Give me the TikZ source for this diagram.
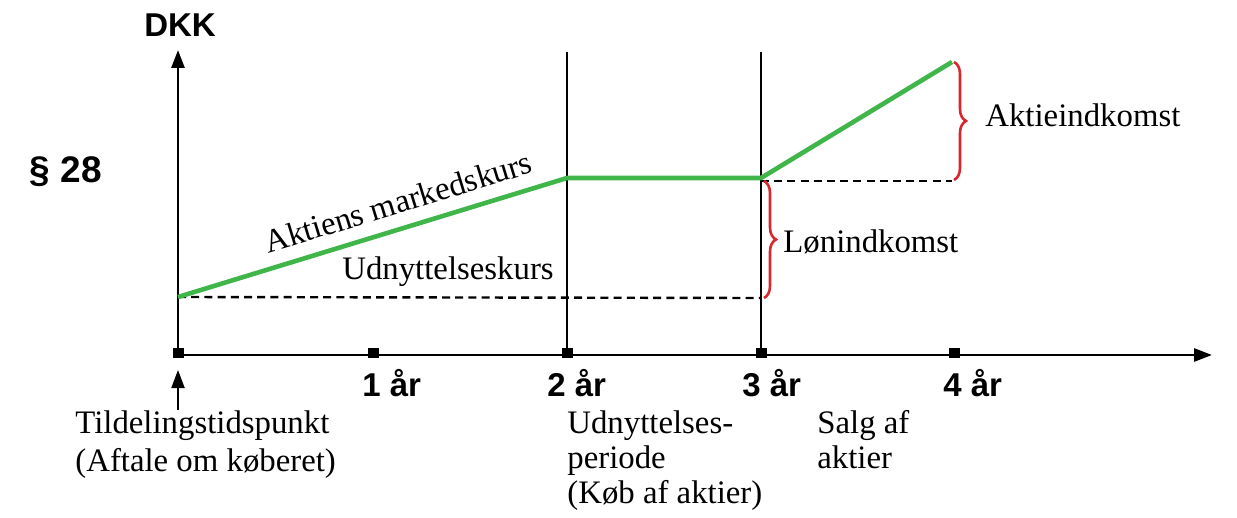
\documentclass[tikz,border=0pt]{standalone}
\usepackage{fontspec}
\setmainfont{Liberation Serif}
\setsansfont{Liberation Sans}
\usetikzlibrary{arrows.meta,calc,positioning,decorations.pathreplacing}
\definecolor{kursgreen}{HTML}{3FB54A}
\definecolor{bracered}{HTML}{D8262E}

\begin{document}
\begin{tikzpicture}[x=0.5pt,y=-0.5pt,>={Triangle[length=9pt,width=6.5pt]},font=\fontsize{16.4}{19}\selectfont]
\tikzset{axis/.style={line width=1.4pt,->}}
\tikzset{vline/.style={line width=1.2pt}}
\tikzset{tick/.style={fill=black,inner sep=0pt,minimum width=5.5pt,minimum height=5pt}}
\tikzset{kurs/.style={kursgreen,line width=2.3pt,line join=round}}
\tikzset{niveau/.style={line width=1.2pt,dash pattern=on 4pt off 2.6pt}}
\tikzset{klamme/.style={bracered,line width=1.3pt,decorate,decoration={brace,amplitude=6pt}}}
\tikzset{lbl/.style={inner sep=0pt}}
\tikzset{aar/.style={inner sep=0pt,font=\fontsize{16.5}{20}\selectfont\sffamily\bfseries}}
\useasboundingbox (0,0) rectangle (1237,518);
% axes
\coordinate (O) at (178,355);
\coordinate (xend) at (1212,355);
\coordinate (yend) at (178,50);
\draw[axis] (O) -- (xend);
\draw[axis] (O) -- (yend);
\foreach \x/\n in {178/0,373/1,567/2,761/3,954/4}
  \node[tick] (t\n) at (\x,353) {};
\foreach \x/\n in {362/1,547/2,742/3,943/4}
  \node[aar,anchor=west] (y\n) at (\x,383) {\n~år};
\node[aar] (dkk) at (180,25) {DKK};
\node[aar,font=\fontsize{18.5}{20}\selectfont\sffamily\bfseries] (par) at (66,172) {\S~28};
% periods
\coordinate (v2) at (567,52);
\coordinate (v3) at (761,52);
\draw[vline] (v2) -- (t2);
\draw[vline] (v3) -- (t3);
% price
\coordinate (p0) at (178,297);
\coordinate (p1) at (567,178);
\coordinate (p2) at (761,178);
\coordinate (p3) at (952,62);
\coordinate (q1) at (761,298);
\coordinate (q0) at (761,181);
\coordinate (q2) at (952,181);
\draw[niveau] (p0) -- (q1);
\draw[niveau] (q0) -- (q2);
\draw[kurs] (p0) -- (p1) -- (p2) -- (p3);
\draw[klamme] (764,181) -- (764,298);
\draw[klamme] (954,62) -- (954,180);
\node[lbl,anchor=west] (loen) at (783,242) {Lønindkomst};
\node[lbl,anchor=west] (aktie) at (985,115) {Aktieindkomst};
\node[lbl,rotate=17] (marked) at (398,202) {Aktiens markedskurs};
\node[lbl] (udn) at (448,272) {Udnyttelseskurs};
% events
\node[lbl,anchor=north west,align=left] (tild) at (75,410) {Tildelingstidspunkt\\(Aftale om køberet)};
\node[lbl,anchor=north west,align=left,font=\fontsize{16.4}{17.5}\selectfont] (periode) at (567,410) {Udnyttelses-\\periode\\(Køb af aktier)};
\node[lbl,anchor=north west,align=left,font=\fontsize{16.4}{17.5}\selectfont] (salg) at (817,410) {Salg af\\aktier};
\coordinate (a0) at (178,370);
\draw[->,line width=1pt] (tild.north -| a0) -- (a0);
\end{tikzpicture}
\end{document}
